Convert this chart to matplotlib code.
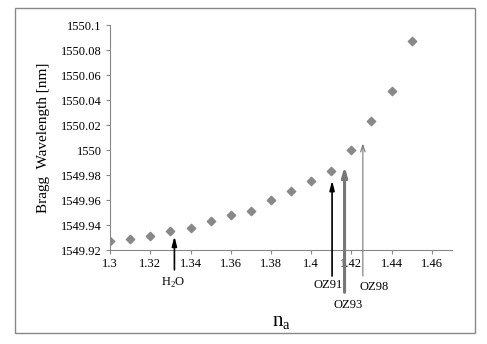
import numpy as np
import matplotlib
matplotlib.use("Agg")
import matplotlib.pyplot as plt
from matplotlib.patches import Rectangle

plt.rcParams['font.family'] = 'Liberation Serif'
plt.rcParams['mathtext.fontset'] = 'custom'
plt.rcParams['mathtext.rm'] = 'Liberation Serif'

na = [1.30, 1.31, 1.32, 1.33, 1.34, 1.35, 1.36, 1.37, 1.38, 1.39,
      1.40, 1.41, 1.42, 1.43, 1.44, 1.45]
wl = [1549.9275, 1549.9288, 1549.931, 1549.9355, 1549.938, 1549.9435,
      1549.948, 1549.9515, 1549.9597, 1549.9675, 1549.975, 1549.983,
      1550.0, 1550.0235, 1550.0475, 1550.0875]

# markierte Brechzahlen (Pfeile)
lab = ["H$_2$O", "OZ91", "OZ93", "OZ98"]
lab_x = [1.332, 1.4104, 1.4166, 1.4257]
lab_tip = [1549.9333, 1549.9779, 1549.9893, 1550.0075]

fig = plt.figure(figsize=(4.87, 3.44), dpi=100)
ax = fig.add_axes([0.226, 0.273, 0.702, 0.654])

ax.scatter(na, wl, marker="D", s=18, color="#888888", zorder=3)

ax.set_xlim(1.3, 1.47)
ax.set_ylim(1549.92, 1550.1)
ax.set_xticks([1.3, 1.32, 1.34, 1.36, 1.38, 1.4, 1.42, 1.44, 1.46])
ax.set_xticklabels(["1.3", "1.32", "1.34", "1.36", "1.38", "1.4", "1.42", "1.44", "1.46"])
ax.set_yticks([1549.92, 1549.94, 1549.96, 1549.98, 1550, 1550.02, 1550.04, 1550.06, 1550.08, 1550.1])
ax.set_yticklabels(["1549.92", "1549.94", "1549.96", "1549.98", "1550",
                    "1550.02", "1550.04", "1550.06", "1550.08", "1550.1"])
ax.tick_params(labelsize=9, length=3, color="#888888", pad=3)
for s in ["top", "right"]:
    ax.spines[s].set_visible(False)
for s in ["left", "bottom"]:
    ax.spines[s].set_color("#888888")

ax.set_ylabel("Bragg  Wavelength [nm]", fontsize=11, labelpad=8)
ax.set_xlabel(r"n$_\mathrm{a}$", fontsize=15, labelpad=31)

# Pfeile
tails = [1549.902, 1549.897, 1549.884, 1549.897]
styles = [dict(arrowstyle="-|>,head_width=0.18,head_length=0.7", color="black", lw=1.2, mutation_scale=8),
          dict(arrowstyle="-|>,head_width=0.18,head_length=0.7", color="black", lw=1.2, mutation_scale=8),
          dict(arrowstyle="-|>,head_width=0.2,head_length=0.7", color="#777777", lw=2.2, mutation_scale=8),
          dict(arrowstyle="->,head_width=0.2,head_length=0.6", color="#777777", lw=0.8, mutation_scale=8)]
txt_pos = [(1.3315, 1549.8995), (1.4085, 1549.8965), (1.4185, 1549.881), (1.4315, 1549.8955)]
for i in range(4):
    ax.annotate("", xy=(lab_x[i], lab_tip[i]), xytext=(lab_x[i], tails[i]),
                arrowprops=styles[i], annotation_clip=False)
    ax.text(txt_pos[i][0], txt_pos[i][1], lab[i], fontsize=9, ha="center", va="top",
            clip_on=False)

fig.patches.append(Rectangle((15/487, 11/344), 460/487, 325/344, transform=fig.transFigure,
                             fill=False, edgecolor="#888888", lw=1))

fig.savefig("out.png", dpi=100)
